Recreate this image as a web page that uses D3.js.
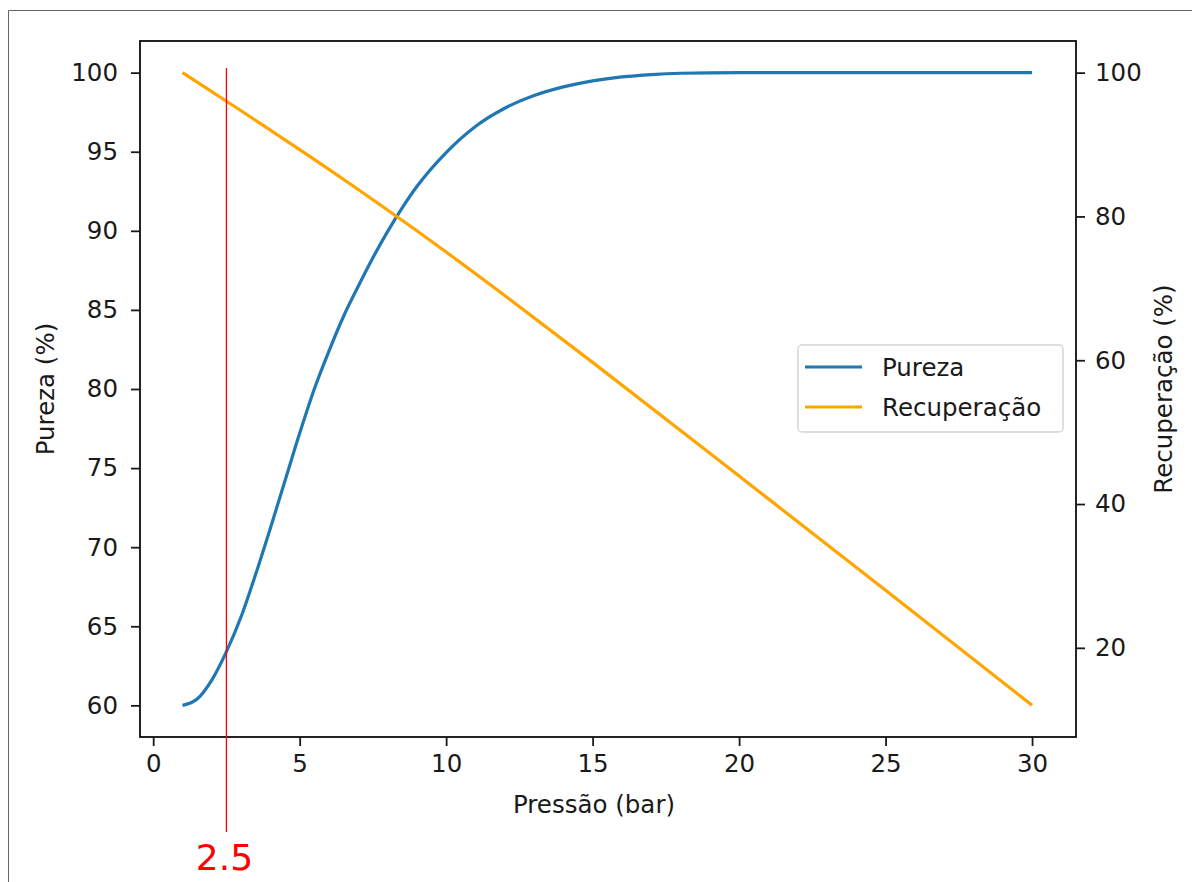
<!DOCTYPE html>
<html>
<head>
<meta charset="utf-8">
<script src="https://cdn.jsdelivr.net/npm/d3@7"></script>
<style>
  body { margin: 0; background: #fff; }
  svg text { font-family: "DejaVu Sans", sans-serif; fill: #1a1a1a; }
</style>
</head>
<body>
<div id="chart"></div>
<script>
// values
const pressao = [1, 1.5, 2, 2.5, 3, 3.5, 4, 4.5, 5, 5.5, 6, 6.5, 7, 7.5, 8, 8.5, 9, 10, 11, 12, 13, 14, 15, 16, 17, 18, 20, 25, 30];
const pureza  = [60.0, 60.4, 61.6, 63.4, 65.6, 68.3, 71.2, 74.2, 77.2, 80.0, 82.4, 84.6, 86.5, 88.3, 89.95, 91.45, 92.8, 94.95, 96.6, 97.75, 98.55, 99.1, 99.48, 99.73, 99.88, 99.96, 100, 100, 100];

const pressaoRec = [1, 2, 3, 4, 5, 6, 7, 8, 9, 10, 12, 15, 20, 25, 30];
const recuperacao = [100, 97.35, 94.7, 92.0, 89.3, 86.55, 83.75, 80.9, 78.0, 75.05, 69.0, 59.7, 43.9, 28.0, 12.0];

const xTicks = [0, 5, 10, 15, 20, 25, 30];
const yLeftTicks = [60, 65, 70, 75, 80, 85, 90, 95, 100];
const yRightTicks = [20, 40, 60, 80, 100];
const marker = 2.5;
const series = [
  { name: 'Pureza', color: '#1f77b4' },
  { name: 'Recuperação', color: '#ffa500' }
];

(function() {
  const width = 1192, height = 882;
  const pLeft = 140, pRight = 1076, pTop = 41, pBottom = 737;
  const FS = 24.5;

  const svg = d3.select('#chart').append('svg')
    .attr('width', width).attr('height', height);

  // outer frame of the screenshot
  svg.append('path')
    .attr('d', `M8.5,${height} V10.5 H${width}`)
    .attr('fill', 'none').attr('stroke', '#666').attr('stroke-width', 1);

  const x = d3.scaleLinear().domain([-0.45, 31.5]).range([pLeft, pRight]);
  const yL = d3.scaleLinear().domain([58, 102]).range([pBottom, pTop]);
  const yR = d3.scaleLinear().domain([7.6, 104.4]).range([pBottom, pTop]);

  const plot = svg.append('g');

  const linePur = d3.line().x((d, i) => x(pressao[i])).y(d => yL(d)).curve(d3.curveMonotoneX);
  const lineRec = d3.line().x((d, i) => x(pressaoRec[i])).y(d => yR(d)).curve(d3.curveMonotoneX);

  plot.append('path').attr('d', linePur(pureza))
    .attr('fill', 'none').attr('stroke', series[0].color).attr('stroke-width', 3.2);
  plot.append('path').attr('d', lineRec(recuperacao))
    .attr('fill', 'none').attr('stroke', series[1].color).attr('stroke-width', 3.2);

  function styleAxis(g) {
    g.select('.domain').remove();
    g.selectAll('.tick line').attr('stroke', '#1a1a1a').attr('stroke-width', 1.8);
    g.selectAll('.tick text').attr('font-size', FS).attr('font-family', '"DejaVu Sans", sans-serif').attr('fill', '#1a1a1a');
  }

  svg.append('g').attr('transform', `translate(0,${pBottom})`)
    .call(d3.axisBottom(x).tickValues(xTicks).tickSize(9).tickPadding(9).tickFormat(d3.format('d')))
    .call(styleAxis);

  svg.append('g').attr('transform', `translate(${pLeft},0)`)
    .call(d3.axisLeft(yL).tickValues(yLeftTicks).tickSize(9).tickPadding(13).tickFormat(d3.format('d')))
    .call(styleAxis);

  svg.append('g').attr('transform', `translate(${pRight},0)`)
    .call(d3.axisRight(yR).tickValues(yRightTicks).tickSize(9).tickPadding(10).tickFormat(d3.format('d')))
    .call(styleAxis);

  // spines
  svg.append('rect')
    .attr('x', pLeft).attr('y', pTop)
    .attr('width', pRight - pLeft).attr('height', pBottom - pTop)
    .attr('fill', 'none').attr('stroke', '#1a1a1a').attr('stroke-width', 1.9);

  // axis labels
  svg.append('text').attr('x', (pLeft + pRight) / 2 - 14).attr('y', 813)
    .attr('text-anchor', 'middle').attr('font-size', FS).text('Pressão (bar)');
  svg.append('text').attr('transform', `translate(54,${(pTop + pBottom) / 2}) rotate(-90)`)
    .attr('text-anchor', 'middle').attr('font-size', FS).text('Pureza (%)');
  svg.append('text').attr('transform', `translate(1172,${(pTop + pBottom) / 2}) rotate(-90)`)
    .attr('text-anchor', 'middle').attr('font-size', FS).text('Recuperação (%)');

  // legend
  const lg = svg.append('g').attr('transform', 'translate(798,345)');
  lg.append('rect').attr('width', 265).attr('height', 87).attr('rx', 4)
    .attr('fill', '#fff').attr('fill-opacity', 0.8).attr('stroke', '#d5d5d5').attr('stroke-width', 1.5);
  series.forEach((s, i) => {
    const yy = 22 + i * 40;
    lg.append('line').attr('x1', 7).attr('x2', 64).attr('y1', yy).attr('y2', yy)
      .attr('stroke', s.color).attr('stroke-width', 3.2);
    lg.append('text').attr('x', 84).attr('y', yy + 9).attr('font-size', FS).text(s.name);
  });

  // red marker line at 2.5 bar
  svg.append('line')
    .attr('x1', x(marker)).attr('x2', x(marker))
    .attr('y1', 68).attr('y2', 832)
    .attr('stroke', '#ff0000').attr('stroke-width', 1.3);
  svg.append('text')
    .attr('x', x(marker) - 2).attr('y', 870)
    .attr('text-anchor', 'middle').attr('font-size', 36)
    .style('fill', '#ff0000').text(String(marker));
})();
</script>
</body>
</html>
